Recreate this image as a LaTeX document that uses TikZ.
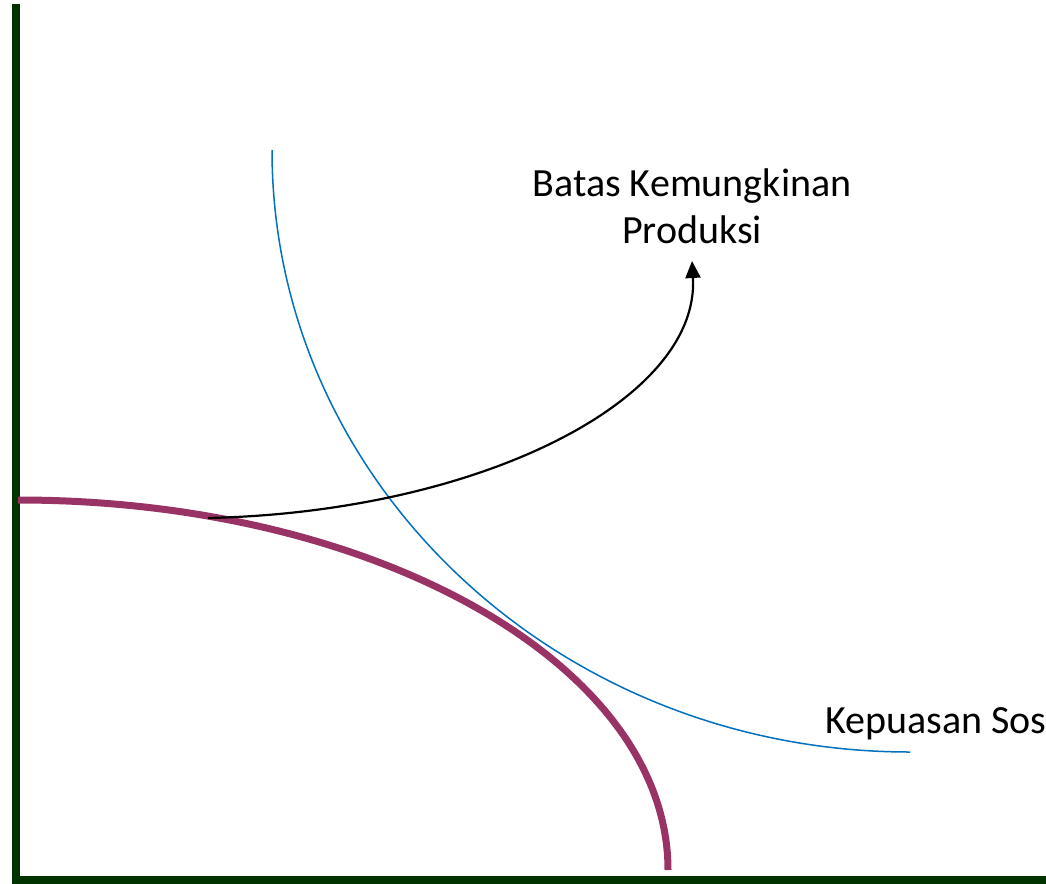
\documentclass[tikz,border=0pt]{standalone}
\usepackage{fontspec}
\setmainfont{Carlito}
\usetikzlibrary{arrows.meta}
\definecolor{axisgreen}{RGB}{0,51,0}
\definecolor{ppfpurple}{RGB}{153,51,102}
\definecolor{icblue}{RGB}{0,112,192}
\tikzset{
  axisline/.style={draw=axisgreen,line width=8pt},
  ppf/.style={draw=ppfpurple,line width=7pt},
  indiff/.style={draw=icblue,line width=1.5pt},
  pointer/.style={draw=black,line width=2.2pt,-{Triangle[length=17pt,width=15pt]}},
  lbl/.style={font=\fontsize{40}{47}\selectfont,text=black,align=center,inner sep=0pt}
}
\begin{document}
\begin{tikzpicture}[x=1pt,y=-1pt]
\useasboundingbox (0,0) rectangle (1046,883);
% axes
\coordinate (ytop) at (16,4);
\coordinate (xend) at (1046,879.5);
\draw[axisline] (ytop) -- (16,883);
\draw[axisline] (12,879.5) -- (xend);
% production possibility frontier (quarter ellipse)
\draw[ppf] (18,500) arc[start angle=90,end angle=0,x radius=650,y radius=-370];
% indifference curve
\draw[indiff] (272,150) arc[start angle=180,end angle=270,x radius=638,y radius=-602];
% labels
\node[lbl,anchor=south,outer ysep=17pt] (bkp) at (692,261) {Batas Kemungkinan\\Produksi};
\node[lbl,anchor=base west] (ks) at (825,733) {Kepuasan Sos};
\coordinate (start) at (208,518);
\draw[pointer] (start) .. controls (480,512) and (700,400) .. (bkp.south);
\end{tikzpicture}
\end{document}
